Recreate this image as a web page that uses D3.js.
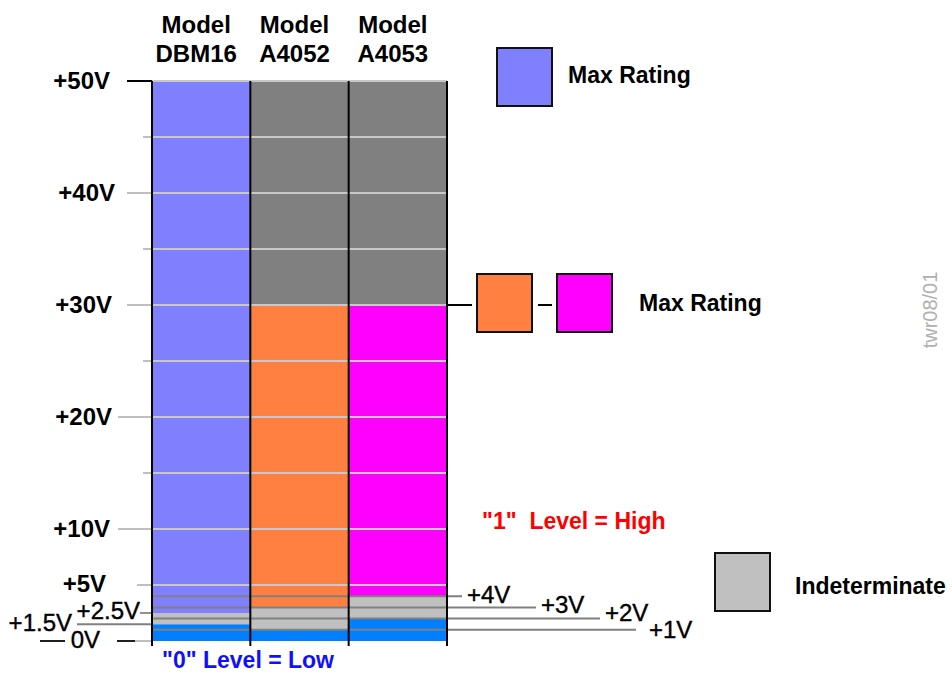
<!DOCTYPE html>
<html><head><meta charset="utf-8">
<script src="https://cdn.jsdelivr.net/npm/d3@7"></script>
<style>body{margin:0;background:#fff}svg{display:block}text{font-family:"Liberation Sans",Arial,sans-serif}</style>
</head><body>
<svg id="c" width="952" height="677"></svg>
<script>
// ---- data ----
const models = ["DBM16", "A4052", "A4053"];
const lowTop = [1.5, 1, 2];        // "0" level (low) upper bound, volts
const indetTop = [2.5, 3, 4];      // indeterminate band upper bound
const highTop = [50, 30, 30];      // max rating
const maxVolt = 50;
const highColors = ["#8080FF", "#FF8040", "#FF00FF"];
const majorTicks = [50, 40, 30, 20, 10];
const majorLabels = ["+50V", "+40V", "+30V", "+20V", "+10V"];
const minorTicks = [45, 35, 25, 15];
const gridTicks = [5, 10, 15, 20, 25, 30, 35, 40, 45, 50];
const leftExtra = [5, 2.5, 1.5, 0];
const leftExtraLabels = ["+5V", "+2.5V", "+1.5V", "0V"];
const rightTicks = [4, 3, 2, 1];
const rightLabels = ["+4V", "+3V", "+2V", "+1V"];

// ---- layout ----
const svg = d3.select("#c");
const y = d3.scaleLinear().domain([0, maxVolt]).range([641, 81]);
const x = d3.scaleBand().domain(models).range([152, 447]).padding(0);
const lowColor = "#0080FF", indetColor = "#C0C0C0", overColor = "#808080";

// segments
const segs = [];
models.forEach((m, i) => {
  segs.push({m, a: 0, b: lowTop[i], c: lowColor});
  segs.push({m, a: lowTop[i], b: indetTop[i], c: indetColor});
  segs.push({m, a: indetTop[i], b: highTop[i], c: highColors[i]});
  if (highTop[i] < maxVolt) segs.push({m, a: highTop[i], b: maxVolt, c: overColor});
});
svg.append("g").selectAll("rect").data(segs).join("rect")
  .attr("x", d => x(d.m)).attr("width", x.bandwidth())
  .attr("y", d => y(d.b)).attr("height", d => y(d.a) - y(d.b))
  .attr("fill", d => d.c);

// light grid lines across bars
svg.append("g").selectAll("line").data(gridTicks).join("line")
  .attr("x1", 152).attr("x2", 447).attr("y1", d => y(d)).attr("y2", d => y(d))
  .attr("stroke", "#c8c8c8").attr("stroke-width", 2);

// left ticks
const tickStart = {50: 127, 40: 127, 30: 127, 20: 118, 10: 118};
svg.append("g").selectAll("line").data(majorTicks).join("line")
  .attr("x1", d => tickStart[d]).attr("x2", 152).attr("y1", d => y(d)).attr("y2", d => y(d))
  .attr("stroke", d => d === 50 ? "#000" : "#c0c0c0").attr("stroke-width", 2);
svg.append("g").selectAll("line").data(minorTicks).join("line")
  .attr("x1", 143).attr("x2", 152).attr("y1", d => y(d)).attr("y2", d => y(d))
  .attr("stroke", "#c0c0c0").attr("stroke-width", 2);
// +5V leader
svg.append("line").attr("x1", 137).attr("x2", 152).attr("y1", y(5)).attr("y2", y(5))
  .attr("stroke", "#c0c0c0").attr("stroke-width", 2);
// +2.5V leader
svg.append("line").attr("x1", 140).attr("x2", 152).attr("y1", y(2.5)).attr("y2", y(2.5))
  .attr("stroke", "#909090").attr("stroke-width", 2);
// +1.5V leader
svg.append("line").attr("x1", 77).attr("x2", 152).attr("y1", y(1.5)).attr("y2", y(1.5))
  .attr("stroke", "#808080").attr("stroke-width", 2);
// 0V dashes
svg.append("line").attr("x1", 40).attr("x2", 65).attr("y1", y(0)).attr("y2", y(0))
  .attr("stroke", "#202020").attr("stroke-width", 2);
svg.append("line").attr("x1", 117).attr("x2", 135).attr("y1", y(0)).attr("y2", y(0))
  .attr("stroke", "#202020").attr("stroke-width", 2);
svg.append("line").attr("x1", 135).attr("x2", 152).attr("y1", y(0)).attr("y2", y(0))
  .attr("stroke", "#c0c0c0").attr("stroke-width", 2);

// right threshold lines
const rightEnd = [462, 536, 600, 636];
svg.append("g").selectAll("line").data(rightTicks).join("line")
  .attr("x1", 152).attr("x2", (d, i) => rightEnd[i]).attr("y1", d => y(d)).attr("y2", d => y(d))
  .attr("stroke", "#808080").attr("stroke-width", 2);
const rightDy = [7, 6, 2, 8];
svg.append("g").selectAll("text").data(rightTicks).join("text")
  .attr("x", (d, i) => rightEnd[i] + (i === 3 ? 13 : 5)).attr("y", (d, i) => y(d) + rightDy[i])
  .attr("font-size", 24).attr("fill", "#000").attr("stroke", "#000").attr("stroke-width", 0.4)
  .text((d, i) => rightLabels[i]);

// column dividers
const edges = models.map(m => x(m)).concat([x(models[models.length - 1]) + x.bandwidth()]);
svg.append("g").selectAll("line").data(edges).join("line")
  .attr("x1", d => d).attr("x2", d => d).attr("y1", y(maxVolt)).attr("y2", y(0) + 5)
  .attr("stroke", "#000").attr("stroke-width", 2);

// left labels
const majorRight = {50: 110, 40: 115, 30: 112, 20: 112, 10: 110};
svg.append("g").selectAll("text").data(majorTicks).join("text")
  .attr("x", d => majorRight[d]).attr("y", d => y(d) + 8).attr("text-anchor", "end")
  .attr("font-size", 24).attr("font-weight", "bold").text((d, i) => majorLabels[i]);
const extraRight = [106, 140, 72, 100];
const extraDy = [7, 6, 7, 7];
svg.append("g").selectAll("text").data(leftExtra).join("text")
  .attr("x", (d, i) => extraRight[i]).attr("y", (d, i) => y(d) + extraDy[i]).attr("text-anchor", "end")
  .attr("font-size", 24).attr("font-weight", (d, i) => i === 0 ? "bold" : "normal")
  .attr("stroke", "#000").attr("stroke-width", (d, i) => i === 0 ? 0 : 0.4)
  .text((d, i) => leftExtraLabels[i]);

// headers
const hdr = svg.append("g").selectAll("text").data(models).join("text")
  .attr("text-anchor", "middle").attr("font-size", 24).attr("font-weight", "bold");
hdr.append("tspan").attr("x", d => x(d) + x.bandwidth() / 2 - 5).attr("y", 33).text("Model");
hdr.append("tspan").attr("x", d => x(d) + x.bandwidth() / 2 - 5).attr("y", 62).text(d => d);

// legends
function box(x0, y0, c) {
  svg.append("rect").attr("x", x0).attr("y", y0).attr("width", 55).attr("height", 58)
    .attr("fill", c).attr("stroke", "#111").attr("stroke-width", 2);
}
box(497, 48, highColors[0]);
svg.append("text").attr("x", 568).attr("y", 83).attr("font-size", 23).attr("font-weight", "bold").text("Max Rating");

svg.append("line").attr("x1", 447).attr("x2", 472).attr("y1", y(30)).attr("y2", y(30)).attr("stroke", "#000").attr("stroke-width", 2);
svg.append("line").attr("x1", 538).attr("x2", 552).attr("y1", y(30)).attr("y2", y(30)).attr("stroke", "#000").attr("stroke-width", 2);
box(477, 274, highColors[1]);
box(557, 274, highColors[2]);
svg.append("text").attr("x", 639).attr("y", 311).attr("font-size", 23).attr("font-weight", "bold").text("Max Rating");

box(715, 553, indetColor);
svg.append("text").attr("x", 795).attr("y", 594).attr("font-size", 23).attr("font-weight", "bold").text("Indeterminate");

svg.append("text").attr("x", 482).attr("y", 529).attr("font-size", 23).attr("font-weight", "bold")
  .attr("fill", "#FF0000").attr("xml:space", "preserve").style("white-space", "pre").text('"1"  Level = High');
svg.append("text").attr("x", 162).attr("y", 668).attr("font-size", 23).attr("font-weight", "bold")
  .attr("fill", "#1010FF").text('"0" Level = Low');

svg.append("text").attr("transform", "translate(937,310) rotate(-90)").attr("text-anchor", "middle")
  .attr("font-size", 20).attr("fill", "#b0b0b0").text("twr08/01");
</script>
</body></html>
